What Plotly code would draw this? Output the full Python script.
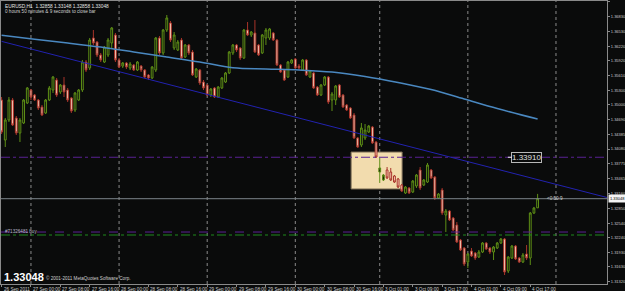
import plotly.graph_objects as go
from datetime import datetime, timedelta

# ---------------- data ----------------
symbol_header = "EURUSD,H1  1.32858 1.33148 1.32858 1.33048"
timer_text = "0 hours 50 minutes & 9 seconds to close bar"

sessions = [  # (date, first hour, last hour) of the H1 bars on screen
    ("2011-09-26", 16, 23), ("2011-09-27", 0, 23), ("2011-09-28", 0, 23),
    ("2011-09-29", 0, 23), ("2011-09-30", 0, 22), ("2011-10-03", 0, 23),
    ("2011-10-04", 0, 19),
]

opens = [1.35101, 1.34269, 1.34685, 1.35101, 1.34727, 1.34415, 1.34623, 1.35039, 1.35309, 1.35205,
         1.35101, 1.34955, 1.34831, 1.35101, 1.35309, 1.35517, 1.35267, 1.35413, 1.35309, 1.35143,
         1.34893, 1.35101, 1.35309, 1.35891, 1.35767, 1.36391, 1.36307, 1.36037, 1.35891, 1.36037,
         1.36287, 1.36453, 1.35933, 1.35808, 1.35871, 1.35767, 1.35829, 1.35725, 1.35808, 1.35725,
         1.35621, 1.35559, 1.35725, 1.36391, 1.36079, 1.36557, 1.36703, 1.36183, 1.36141, 1.36349,
         1.35995, 1.36245, 1.36099, 1.35579, 1.35725, 1.35475, 1.35413, 1.35205, 1.35351, 1.35163,
         1.35351, 1.35475, 1.35663, 1.36079, 1.36245, 1.36183, 1.35975, 1.36557, 1.36453, 1.36495,
         1.36245, 1.36079, 1.36391, 1.36391, 1.36495, 1.36349, 1.35829, 1.35725, 1.35579, 1.35871,
         1.35954, 1.35808, 1.35725, 1.35933, 1.35579, 1.35663, 1.35371, 1.35205, 1.35413, 1.35579,
         1.35101, 1.35101, 1.35413, 1.35205, 1.34997, 1.34935, 1.34789, 1.34311, 1.34165, 1.34311,
         1.34435, 1.34539, 1.34227, 1.33603, 1.33437, 1.33645, 1.33603, 1.33520, 1.33458, 1.33333,
         1.33167, 1.33271, 1.33187, 1.33312, 1.33645, 1.33333, 1.33395, 1.33645, 1.33499, 1.33063,
         1.33229, 1.32709, 1.32793, 1.32647, 1.32501, 1.32189, 1.32023, 1.31731, 1.31960, 1.31919,
         1.31835, 1.31939, 1.32127, 1.32023, 1.31939, 1.32023, 1.32127, 1.32210, 1.31545, 1.31815,
         1.32064, 1.31815, 1.31731, 1.31898, 1.31815, 1.32751, 1.32858]
highs = [1.35163, 1.34727, 1.35163, 1.35143, 1.34768, 1.34727, 1.35122, 1.35371, 1.35330, 1.35226,
         1.35122, 1.34997, 1.35122, 1.35392, 1.35600, 1.35559, 1.35434, 1.35579, 1.35351, 1.35163,
         1.35267, 1.35330, 1.35933, 1.35933, 1.36391, 1.36557, 1.36328, 1.36079, 1.36224, 1.36391,
         1.36619, 1.36495, 1.35975, 1.35891, 1.35891, 1.35891, 1.35850, 1.35912, 1.35829, 1.35746,
         1.35642, 1.35808, 1.36411, 1.36432, 1.36578, 1.36869, 1.36744, 1.36515, 1.36349, 1.36391,
         1.36266, 1.36266, 1.36141, 1.35767, 1.35746, 1.35517, 1.35434, 1.35351, 1.35371, 1.35392,
         1.35579, 1.35683, 1.36120, 1.36266, 1.36266, 1.36203, 1.36578, 1.36723, 1.36536, 1.36765,
         1.36266, 1.36474, 1.36599, 1.36599, 1.36515, 1.36370, 1.35850, 1.35746, 1.35912, 1.35954,
         1.35975, 1.35850, 1.35954, 1.35954, 1.35725, 1.35683, 1.35392, 1.35434, 1.35600, 1.35600,
         1.35267, 1.35413, 1.35434, 1.35226, 1.35018, 1.34955, 1.34831, 1.34331, 1.34623, 1.34602,
         1.34581, 1.34560, 1.34248, 1.33895, 1.33562, 1.33707, 1.33687, 1.33541, 1.33479, 1.33354,
         1.33312, 1.33291, 1.33437, 1.33562, 1.33707, 1.33458, 1.33791, 1.33666, 1.33520, 1.33167,
         1.33271, 1.32834, 1.32813, 1.32667, 1.32563, 1.32210, 1.32043, 1.31919, 1.32023, 1.31939,
         1.31981, 1.32147, 1.32147, 1.32043, 1.32064, 1.32147, 1.32231, 1.32231, 1.31856, 1.32085,
         1.32085, 1.31835, 1.31919, 1.32085, 1.32772, 1.32877, 1.33148]
lows = [1.34394, 1.34123, 1.34643, 1.34560, 1.34373, 1.34227, 1.34602, 1.35018, 1.35101, 1.35080,
        1.34893, 1.34768, 1.34810, 1.35080, 1.35247, 1.35163, 1.35226, 1.35163, 1.35059, 1.34831,
        1.34851, 1.35080, 1.35267, 1.35683, 1.35725, 1.36245, 1.35995, 1.35891, 1.35871, 1.35995,
        1.36183, 1.35891, 1.35767, 1.35767, 1.35746, 1.35725, 1.35704, 1.35704, 1.35683, 1.35559,
        1.35517, 1.35538, 1.35683, 1.36037, 1.36037, 1.36515, 1.36307, 1.36141, 1.36120, 1.35933,
        1.35975, 1.36037, 1.35600, 1.35559, 1.35413, 1.35309, 1.35184, 1.35163, 1.35143, 1.35143,
        1.35330, 1.35455, 1.35642, 1.36037, 1.36099, 1.35933, 1.35954, 1.36432, 1.36411, 1.36079,
        1.36016, 1.36058, 1.36245, 1.36349, 1.36328, 1.35808, 1.35663, 1.35496, 1.35559, 1.35850,
        1.35746, 1.35725, 1.35704, 1.35600, 1.35559, 1.35330, 1.35184, 1.35184, 1.35392, 1.35018,
        1.34872, 1.34997, 1.35143, 1.34935, 1.34872, 1.34706, 1.34290, 1.34103, 1.34123, 1.34269,
        1.34415, 1.34186, 1.33895, 1.33375, 1.33416, 1.33458, 1.33416, 1.33375, 1.33271, 1.33187,
        1.33146, 1.33146, 1.33167, 1.33271, 1.33229, 1.33312, 1.33375, 1.33458, 1.33021, 1.33042,
        1.32709, 1.32355, 1.32584, 1.32376, 1.32127, 1.31960, 1.31648, 1.31607, 1.31835, 1.31773,
        1.31815, 1.31919, 1.31981, 1.31898, 1.31773, 1.32002, 1.32106, 1.31461, 1.31503, 1.31794,
        1.31773, 1.31711, 1.31711, 1.31773, 1.31669, 1.32730, 1.32858]
closes = [1.34435, 1.34685, 1.35101, 1.34581, 1.34415, 1.34685, 1.35101, 1.35351, 1.35163, 1.35101,
          1.34935, 1.34789, 1.35101, 1.35351, 1.35579, 1.35205, 1.35413, 1.35267, 1.35101, 1.34872,
          1.35247, 1.35309, 1.35891, 1.35725, 1.36349, 1.36287, 1.36037, 1.35933, 1.36203, 1.36349,
          1.36599, 1.35933, 1.35787, 1.35871, 1.35787, 1.35850, 1.35725, 1.35891, 1.35725, 1.35579,
          1.35559, 1.35787, 1.36391, 1.36079, 1.36557, 1.36807, 1.36349, 1.36453, 1.36307, 1.35975,
          1.36245, 1.36079, 1.35621, 1.35746, 1.35455, 1.35351, 1.35205, 1.35330, 1.35163, 1.35371,
          1.35559, 1.35663, 1.36099, 1.36245, 1.36141, 1.35975, 1.36557, 1.36453, 1.36515, 1.36099,
          1.36037, 1.36453, 1.36557, 1.36578, 1.36349, 1.35829, 1.35683, 1.35517, 1.35891, 1.35933,
          1.35767, 1.35767, 1.35933, 1.35621, 1.35704, 1.35351, 1.35205, 1.35413, 1.35579, 1.35059,
          1.35226, 1.35392, 1.35163, 1.34955, 1.34893, 1.34727, 1.34311, 1.34123, 1.34519, 1.34477,
          1.34560, 1.34207, 1.33915, 1.33687, 1.33541, 1.33479, 1.33437, 1.33395, 1.33291, 1.33208,
          1.33291, 1.33167, 1.33416, 1.33541, 1.33271, 1.33437, 1.33749, 1.33479, 1.33063, 1.33146,
          1.32751, 1.32793, 1.32605, 1.32397, 1.32147, 1.31981, 1.31690, 1.31898, 1.31856, 1.31815,
          1.31939, 1.32127, 1.32002, 1.31939, 1.32043, 1.32127, 1.32210, 1.31524, 1.31835, 1.32064,
          1.31794, 1.31731, 1.31877, 1.31815, 1.32751, 1.32855, 1.33048]

# slow moving average (light blue), read at every 9th bar
ma_bars = [0, 9, 18, 27, 36, 45, 54, 63, 72, 81, 90, 99, 108, 117, 126, 135, 146]
ma_values = [1.36449, 1.36366, 1.36287, 1.36201, 1.36099, 1.35995, 1.35891, 1.35771, 1.35746,
             1.35725, 1.35683, 1.35590, 1.35465, 1.35319, 1.35122, 1.34924, 1.34706]

trend_bars = [0, 146]            # trend line (ray) anchors
trend_prices = [1.36320, 1.33445]

level_label = 1.33910            # labelled horizontal level
order_level_a = 1.32355          # purple order line
order_level_b = 1.32293          # green order line
order_text = "#71326481 buy"
bid_price = 1.33048
bid_text = "1.33048"
countdown_text = "<0:50:9"
copyright_text = "\u00a9 2001-2011 MetaQuotes Software Corp."

rect_bars = [95.2, 109.1]        # highlighted box
rect_prices = [1.34019, 1.33250]

y_ticks = [1.37140, 1.36830, 1.36530, 1.36220, 1.35920, 1.35610, 1.35300, 1.35000, 1.34690,
           1.34385, 1.34080, 1.33775, 1.33465, 1.33160, 1.32850, 1.32540, 1.32240, 1.31930,
           1.31630, 1.31320]
y_range = [1.31274, 1.37160]
x_range = [-0.16, 164.9]

# ---------------- derived ----------------
times = []
for d, h0, h1 in sessions:
    base = datetime.strptime(d, "%Y-%m-%d")
    for h in range(h0, h1 + 1):
        times.append(base + timedelta(hours=h))
n = len(times)
bars = list(range(n))

label_bars = list(range(0, n, 8))
label_texts = []
for i in label_bars:
    t = times[i]
    if i == 0:
        label_texts.append(f"{t.day} {t.strftime('%b')} {t.year}")
    else:
        label_texts.append(f"{t.day} {t.strftime('%b')} {t.strftime('%H:%M')}")

day_starts = [i for i, t in enumerate(times) if t.hour == 0]
day_starts.append(n - 1 + (24 - times[-1].hour))

slope = (trend_prices[1] - trend_prices[0]) / (trend_bars[1] - trend_bars[0])
trend_end_price = trend_prices[0] + slope * (x_range[1] - trend_bars[0])

BG = "#0a0b0b"
FONT = "Liberation Sans"
GRAY = "#8a8a8a"

fig = go.Figure()

fig.add_trace(go.Candlestick(
    x=bars, open=opens, high=highs, low=lows, close=closes,
    increasing=dict(line=dict(color="#5e8f16", width=1), fillcolor=BG),
    decreasing=dict(line=dict(color="#a8342a", width=1), fillcolor="#ffdcc6"),
    whiskerwidth=0, showlegend=False, hoverinfo="skip",
))

fig.add_trace(go.Scatter(
    x=ma_bars, y=ma_values, mode="lines",
    line=dict(color="#4a88c0", width=1.5, shape="spline"),
    showlegend=False, hoverinfo="skip",
))

shapes = []
# highlighted rectangle (behind candles)
shapes.append(dict(type="rect", xref="x", yref="y", layer="below",
                   x0=rect_bars[0], x1=rect_bars[1], y0=rect_prices[1], y1=rect_prices[0],
                   fillcolor="#f2dcae", line=dict(color="#7a6c55", width=1)))
# day separators
for d in day_starts:
    shapes.append(dict(type="line", xref="x", yref="paper", x0=d, x1=d, y0=0, y1=1,
                       line=dict(color=GRAY, width=1, dash="dot"), layer="below"))
# horizontal levels
shapes.append(dict(type="line", xref="paper", yref="y", x0=0, x1=1, y0=level_label, y1=level_label,
                   line=dict(color="#5a2294", width=1, dash="dashdot")))
shapes.append(dict(type="line", xref="paper", yref="y", x0=0, x1=1, y0=order_level_a, y1=order_level_a,
                   line=dict(color="#5a2294", width=1, dash="dash")))
shapes.append(dict(type="line", xref="paper", yref="y", x0=0, x1=1, y0=order_level_b, y1=order_level_b,
                   line=dict(color="#1f8a1f", width=1, dash="dashdot")))
shapes.append(dict(type="line", xref="paper", yref="y", x0=0, x1=1, y0=bid_price, y1=bid_price,
                   line=dict(color="#7d868c", width=1)))
# trend line ray
shapes.append(dict(type="line", xref="x", yref="y", x0=trend_bars[0], y0=trend_prices[0],
                   x1=x_range[1], y1=trend_end_price, line=dict(color="#2222b0", width=1)))

ann = []
small = dict(family=FONT, size=4.6, color="#d0d0d0")
ann.append(dict(text=symbol_header, xref="paper", yref="paper", x=0, y=1, xanchor="left",
                yanchor="top", xshift=2, yshift=-1, showarrow=False,
                font=dict(family=FONT, size=4.8, color="#e6e6e6")))
ann.append(dict(text=timer_text, xref="paper", yref="paper", x=0, y=1, xanchor="left",
                yanchor="top", xshift=2, yshift=-6, showarrow=False, font=small))
ann.append(dict(text="<b>" + bid_text + "</b>", xref="paper", yref="paper", x=0, y=0,
                xanchor="left", yanchor="bottom", xshift=1, yshift=-1, showarrow=False,
                font=dict(family=FONT, size=11, color="#ffffff")))
ann.append(dict(text=copyright_text, xref="paper", yref="paper", x=0, y=0, xanchor="left",
                yanchor="bottom", xshift=43, yshift=1, showarrow=False, font=small))
ann.append(dict(text=order_text, xref="paper", yref="y", x=0, y=order_level_a, xanchor="left",
                yanchor="middle", xshift=2, yshift=1, showarrow=False,
                font=dict(small, color="#b8b8c8")))
ann.append(dict(text=countdown_text, xref="x", yref="y", x=n + 0.9, y=bid_price, xanchor="left",
                yanchor="middle", showarrow=False, font=small))
# labelled level box
ann.append(dict(text=f"{level_label:.5f}", xref="x", yref="y", x=137.9, y=level_label,
                showarrow=True, ax=19, ay=0, arrowhead=0, arrowwidth=1, arrowcolor="#f0f0f0",
                bordercolor="#b8b8b8", borderwidth=1, borderpad=0, bgcolor=BG,
                font=dict(family=FONT, size=8, color="#e0e0e0")))
# bid price marker on the price axis
ann.append(dict(text=bid_text, xref="paper", yref="y", x=1, y=bid_price, xanchor="left",
                yanchor="middle", xshift=1, showarrow=False, bgcolor="#f4f4f4", borderpad=1,
                font=dict(family=FONT, size=4, color="#000000")))
# time labels (left aligned on their tick, as in the terminal)
for i, txt in zip(label_bars, label_texts):
    ann.append(dict(text=txt, xref="x", yref="paper", x=i, y=0, xanchor="left", yanchor="top",
                    xshift=0, yshift=-1, showarrow=False, font=small))

fig.update_layout(
    width=625, height=291, margin=dict(l=1, r=18, t=1, b=7),
    paper_bgcolor=BG, plot_bgcolor=BG, template="none",
    shapes=shapes, annotations=ann, hovermode=False, showlegend=False,
    xaxis=dict(range=x_range, rangeslider=dict(visible=False), showgrid=False, zeroline=False,
               showline=True, linecolor=GRAY, linewidth=1, mirror=True,
               tickvals=label_bars, ticks="outside", ticklen=2, tickcolor=GRAY,
               showticklabels=False, automargin=False, fixedrange=True),
    yaxis=dict(range=y_range, side="right", showgrid=False, zeroline=False,
               showline=True, linecolor=GRAY, linewidth=1, mirror=True,
               tickvals=y_ticks, ticktext=[f"{v:.5f}" for v in y_ticks],
               ticks="outside", ticklen=2, tickcolor=GRAY, ticklabelstandoff=0,
               tickfont=dict(family=FONT, size=4, color="#c8c8c8"),
               automargin=False, fixedrange=True),
)

fig.write_html("out.html", config={"displayModeBar": False})
